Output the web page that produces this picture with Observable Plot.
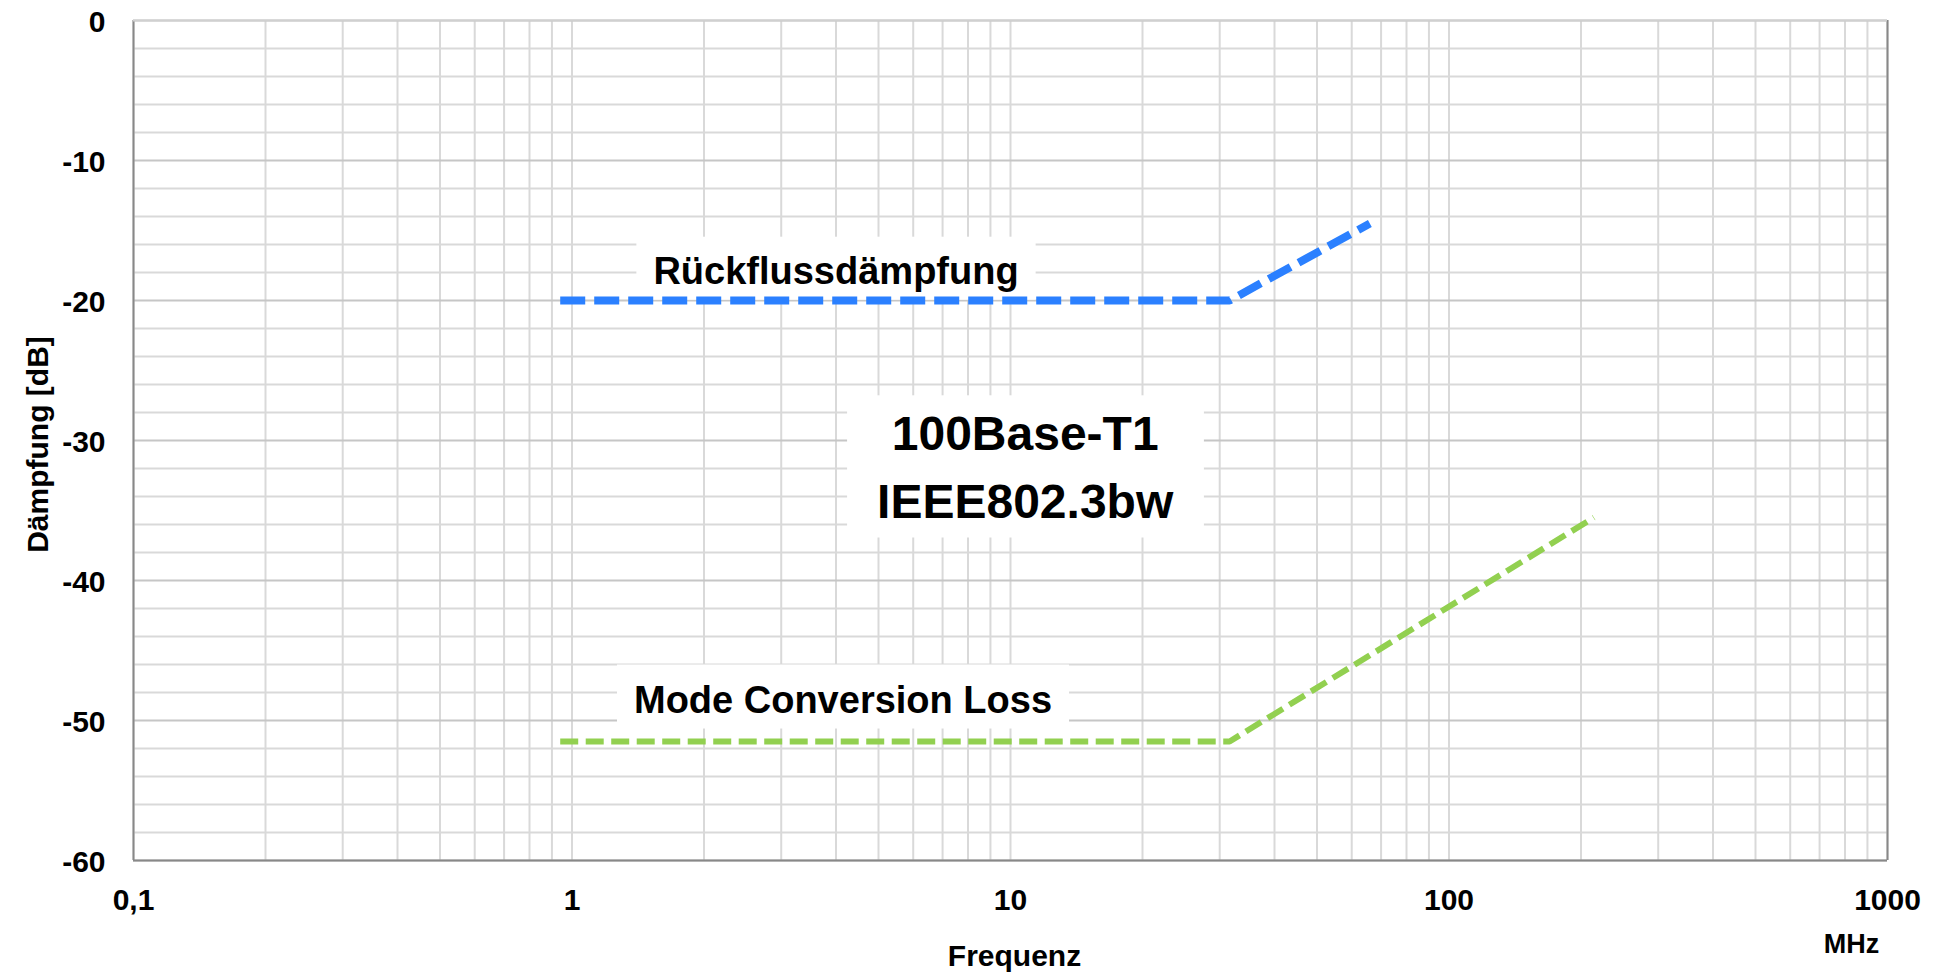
<!DOCTYPE html>
<html>
<head>
<meta charset="utf-8">
<script src="https://cdn.jsdelivr.net/npm/d3@7"></script>
<script src="https://cdn.jsdelivr.net/npm/@observablehq/plot@0.6"></script>
<style>
  html, body { margin: 0; padding: 0; background: #fff; }
  svg { display: block; }
</style>
</head>
<body>
<div id="chart"></div>
<script>
// Return loss limit (Rückflussdämpfung): frequency in MHz, level in dB
const rlFreq = [0.94, 31.6, 66];
const rlDb = [-20, -20, -14.5];

// Mode conversion loss limit: frequency in MHz, level in dB
const mclFreq = [0.94, 31.6, 214];
const mclDb = [-51.5, -51.5, -35.5];

// Axis ticks and their printed labels
const xTicks = [0.1, 1, 10, 100, 1000];
const xTickLabels = ["0,1", "1", "10", "100", "1000"];
const yTicks = [0, -10, -20, -30, -40, -50, -60];
const yTickLabels = ["0", "-10", "-20", "-30", "-40", "-50", "-60"];

// Annotation texts
const rlName = "Rückflussdämpfung";
const mclName = "Mode Conversion Loss";
const standardName = "100Base-T1\nIEEE802.3bw";

const rlData = rlFreq.map((f, i) => ({f, db: rlDb[i]}));
const mclData = mclFreq.map((f, i) => ({f, db: mclDb[i]}));

// Log grid: every integer multiple inside each decade; linear grid every 2 dB
const xGrid = d3.range(-1, 3).flatMap(e => d3.range(1, 10).map(m => +(m * 10 ** e).toPrecision(6))).concat([1000]);
const yGrid = d3.range(-60, 1, 2);
const yMinor = yGrid.filter(v => v % 10 !== 0);
const yMajor = yGrid.filter(v => v % 10 === 0);

const FONT = "'Liberation Sans', Arial, Helvetica, sans-serif";

const chart = Plot.plot({
  width: 1934,
  height: 974,
  marginLeft: 133,
  marginRight: 47,
  marginTop: 20,
  marginBottom: 114,
  style: {fontFamily: FONT, fontWeight: "bold", background: "#fff", overflow: "visible"},
  x: {type: "log", domain: [0.1, 1000]},
  y: {domain: [-60, 0]},
  marks: [
    // grid
    Plot.ruleX(xGrid, {stroke: "#d9d9d9", strokeWidth: 2}),
    Plot.ruleY(yMinor, {stroke: "#d9d9d9", strokeWidth: 2}),
    Plot.ruleY(yMajor, {stroke: "#c6c6c6", strokeWidth: 2}),
    // plot-area border
    Plot.ruleX([0.1, 1000], {stroke: "#888", strokeWidth: 2}),
    Plot.ruleY([-60], {stroke: "#888", strokeWidth: 2}),
    Plot.ruleY([0], {stroke: "#d0d0d0", strokeWidth: 2}),
    // annotations (white boxes are added behind them after rendering)
    Plot.text([{t: rlName, f: 4.0, db: -18.8}], {
      x: "f", y: "db", text: "t", fontSize: 38, fontWeight: "bold", fill: "#000",
      textAnchor: "middle", lineAnchor: "bottom"
    }),
    Plot.text([{t: mclName, f: 4.15, db: -49.43}], {
      x: "f", y: "db", text: "t", fontSize: 38, fontWeight: "bold", fill: "#000",
      textAnchor: "middle", lineAnchor: "bottom"
    }),
    Plot.text([{t: standardName, f: 10.8, db: -35.5}], {
      x: "f", y: "db", text: "t", fontSize: 48, fontWeight: "bold", fill: "#000",
      textAnchor: "middle", lineAnchor: "bottom", lineHeight: 1.4
    }),
    // limit lines
    Plot.line(rlData, {
      x: "f", y: "db", stroke: "#2b80ff", strokeWidth: 8,
      strokeDasharray: "25 9", strokeLinecap: "butt", strokeLinejoin: "miter"
    }),
    Plot.line(mclData, {
      x: "f", y: "db", stroke: "#92d050", strokeWidth: 6,
      strokeDasharray: "18 7.5", strokeLinecap: "butt", strokeLinejoin: "miter"
    }),
    // axes
    Plot.axisX(xTicks, {
      tickSize: 0, tickPadding: 28, label: null, fontSize: 30, fontWeight: "bold", fill: "#000",
      tickFormat: d => xTickLabels[xTicks.indexOf(d)]
    }),
    Plot.axisY(yTicks, {
      tickSize: 0, tickPadding: 28, label: null, fontSize: 30, fontWeight: "bold", fill: "#000",
      dy: 2, tickFormat: d => yTickLabels[yTicks.indexOf(d)]
    }),
    // axis titles
    Plot.text(["Frequenz"], {
      frameAnchor: "bottom", dx: 4, dy: 105, lineAnchor: "bottom",
      fontSize: 30, fontWeight: "bold", fill: "#000"
    }),
    Plot.text(["MHz"], {
      frameAnchor: "bottom-right", textAnchor: "middle", dx: -36, dy: 92, lineAnchor: "bottom",
      fontSize: 27, fontWeight: "bold", fill: "#000"
    }),
    Plot.text(["Dämpfung [dB]"], {
      frameAnchor: "left", textAnchor: "middle", dx: -95, dy: 4, rotate: -90,
      fontSize: 30, fontWeight: "bold", fill: "#000"
    })
  ]
});

document.getElementById("chart").appendChild(chart);

// Put a white box behind each annotation so the grid does not run through it.
// padding: [left/right, top, bottom]
const boxed = [
  {first: rlName, pad: [17, 13, 8]},
  {first: mclName, pad: [17, 14, 8]},
  {first: standardName.split("\n")[0], pad: [30, 12, 10]}
];
const texts = Array.from(chart.querySelectorAll("text"));
for (const {first, pad: [px, pt, pb]} of boxed) {
  const t = texts.find(el => {
    const head = el.querySelector("tspan");
    return (head ? head.textContent : el.textContent) === first;
  });
  if (!t) continue;
  const b = t.getBBox();
  const r = document.createElementNS("http://www.w3.org/2000/svg", "rect");
  r.setAttribute("x", b.x - px);
  r.setAttribute("y", b.y - pt);
  r.setAttribute("width", b.width + 2 * px);
  r.setAttribute("height", b.height + pt + pb);
  r.setAttribute("fill", "#fff");
  r.setAttribute("stroke", "none");
  const tr = t.getAttribute("transform");
  if (tr) r.setAttribute("transform", tr);
  t.parentNode.insertBefore(r, t);
}
</script>
</body>
</html>
